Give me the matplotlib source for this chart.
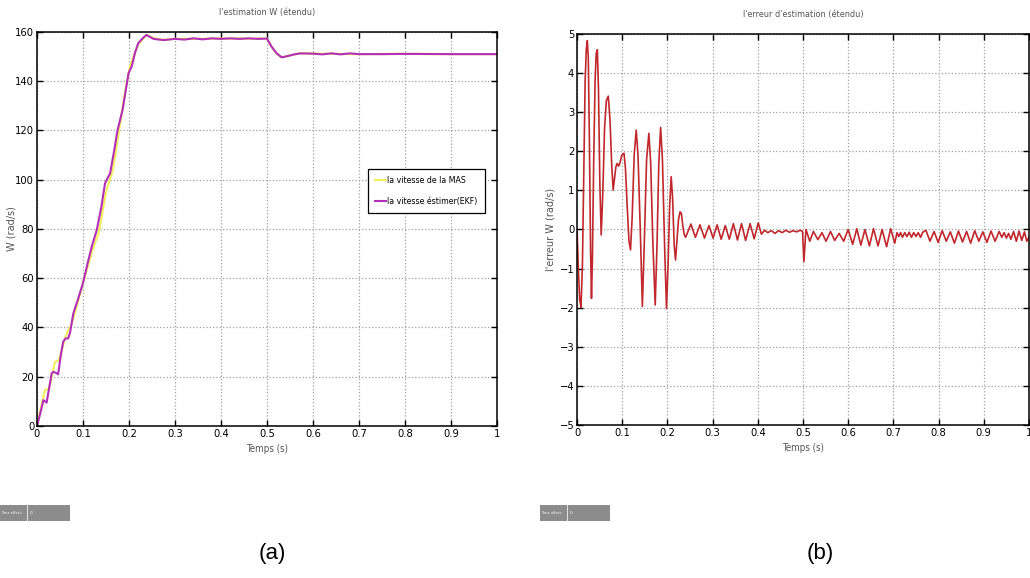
import numpy as np
import matplotlib
matplotlib.use('Agg')
import matplotlib.pyplot as plt
from matplotlib.patches import Rectangle

# --- (a) speed: real (MAS) and estimated (EKF) ---
t_mas = [0, 0.008, 0.0174, 0.025, 0.03, 0.039, 0.046, 0.05, 0.06, 0.068, 0.075, 0.086,
         0.1, 0.12, 0.135, 0.15, 0.165, 0.18, 0.192, 0.202, 0.21, 0.22, 0.238, 0.255,
         0.275, 0.3, 0.35, 0.4, 0.45, 0.5, 0.51, 0.521, 0.532, 0.545, 0.557, 0.572,
         0.6, 0.7, 0.8, 0.9, 1.0]
w_mas = [0, 7, 14.6, 15, 18, 26, 26.5, 28, 35, 39, 41, 48.5,
         58, 71, 79, 95, 104, 122, 136, 146, 150, 155, 158.8, 157.4,
         156.8, 157.2, 157.2, 157.3, 157.3, 157.3, 154, 151.3, 149.7, 150.2, 150.8, 151.3,
         151.2, 151.0, 151.1, 151.0, 151.0]

t_ekf = [0, 0.007, 0.014, 0.021, 0.027, 0.032, 0.0355, 0.042, 0.046, 0.052, 0.057, 0.062,
         0.068, 0.072, 0.079, 0.09, 0.1, 0.11, 0.119, 0.13, 0.14, 0.148, 0.159, 0.168,
         0.175, 0.186, 0.199, 0.206, 0.213, 0.22, 0.23, 0.238, 0.253, 0.275, 0.3, 0.32,
         0.34, 0.36, 0.38, 0.4, 0.42, 0.44, 0.46, 0.48, 0.5, 0.51, 0.521, 0.532, 0.545,
         0.557, 0.572, 0.6, 0.62, 0.64, 0.66, 0.68, 0.7, 0.75, 0.8, 0.9, 1.0]
w_ekf = [0, 5, 10.5, 9.5, 16, 21.4, 22, 21.5, 21, 29, 34.2, 35.5,
         35.6, 38, 45.7, 52, 58, 66, 72.8, 79.6, 89, 98.6, 102.6, 112,
         120, 128.3, 143.2, 146, 151.5, 155.4, 157.5, 158.8, 157.2, 156.7, 157.2, 156.9,
         157.4, 157.0, 157.4, 157.2, 157.4, 157.2, 157.4, 157.2, 157.3, 154, 151.3, 149.7, 150.2,
         150.8, 151.3, 151.2, 150.9, 151.3, 150.9, 151.3, 151.0, 151.0, 151.1, 151.0, 151.0]

# --- (b) estimation error ---
t_err = [0, 0.003, 0.006, 0.0089, 0.012, 0.015, 0.018, 0.0205, 0.0228, 0.025, 0.0275, 0.03,
         0.032, 0.034, 0.037, 0.04, 0.0425, 0.045, 0.0475, 0.0505, 0.0535, 0.057, 0.061, 0.065,
         0.0692, 0.073, 0.077, 0.08, 0.083, 0.086, 0.089, 0.092, 0.095, 0.099, 0.104, 0.107,
         0.111, 0.115, 0.1184, 0.122, 0.1265, 0.131, 0.135, 0.14, 0.1446, 0.149, 0.154, 0.159,
         0.163, 0.168, 0.173, 0.177, 0.181, 0.185, 0.189, 0.194, 0.198, 0.2015, 0.205, 0.2084,
         0.2115, 0.215, 0.218, 0.221, 0.2245, 0.228, 0.231, 0.234, 0.237, 0.2404,
         0.252, 0.262, 0.272, 0.282, 0.292, 0.301, 0.310, 0.319, 0.328, 0.337, 0.346, 0.355,
         0.364, 0.373, 0.383, 0.392, 0.401,
         0.408, 0.415, 0.422, 0.43, 0.438, 0.446, 0.454, 0.462, 0.47, 0.478, 0.486, 0.494, 0.499,
         0.502, 0.5066, 0.515, 0.523, 0.533, 0.542, 0.551, 0.561, 0.57, 0.58, 0.59,
         0.600, 0.61, 0.619, 0.628, 0.637, 0.647, 0.656, 0.666, 0.675, 0.685, 0.694, 0.703,
         0.708, 0.712, 0.716, 0.72, 0.725, 0.73, 0.735, 0.74, 0.745, 0.75, 0.755, 0.76, 0.765,
         0.772, 0.781, 0.79, 0.799, 0.808, 0.817, 0.826, 0.835, 0.844, 0.853, 0.862, 0.871,
         0.88, 0.889, 0.898, 0.907, 0.916, 0.925, 0.934,
         0.94, 0.945, 0.95, 0.955, 0.96, 0.966, 0.972, 0.978, 0.984, 0.99, 0.995, 1.0]
e_err = [0, -1.0, -1.8, -1.99, -0.9, 1.5, 3.8, 4.6, 4.83, 4.4, 2.2, -0.5,
         -1.76, -0.8, 1.8, 3.8, 4.5, 4.6, 3.6, 1.2, -0.14, 0.9, 2.6, 3.3,
         3.41, 2.8, 1.6, 1.01, 1.3, 1.6, 1.69, 1.62, 1.7, 1.9, 1.95, 1.6,
         0.6, -0.3, -0.52, 0.3, 1.9, 2.54, 1.9, 0.0, -1.97, -0.3, 1.8, 2.46,
         1.7, -0.4, -1.93, -0.4, 1.7, 2.61, 1.8, -0.5, -2.02, -0.9, 0.6, 1.35,
         0.8, -0.4, -0.78, -0.3, 0.25, 0.45, 0.41, 0.1, -0.12, -0.2,
         0.14, -0.2, 0.12, -0.22, 0.1, -0.22, 0.12, -0.25, 0.1, -0.25, 0.15, -0.27,
         0.15, -0.28, 0.15, -0.24, 0.17,
         -0.12, -0.02, -0.08, -0.03, -0.1, -0.03, -0.08, -0.02, -0.07, -0.03, -0.06, -0.02, -0.05,
         -0.82, 0.0, -0.3, -0.05, -0.26, -0.08, -0.3, -0.05, -0.28, -0.1, -0.3,
         0.0, -0.38, 0.02, -0.4, 0.0, -0.42, 0.02, -0.42, 0.0, -0.44, 0.02, -0.35,
         -0.08, -0.18, -0.08, -0.2, -0.08, -0.18, -0.07, -0.2, -0.08, -0.18, -0.08, -0.2, -0.07,
         -0.02, -0.3, -0.05, -0.33, -0.03, -0.3, -0.06, -0.35, -0.04, -0.32, -0.05, -0.35,
         -0.03, -0.3, -0.06, -0.33, -0.04, -0.3, -0.05,
         -0.2, -0.08, -0.22, -0.1, -0.25, -0.05, -0.3, -0.04, -0.28, -0.06, -0.3, -0.2]

x_ticks = [0, 0.1, 0.2, 0.3, 0.4, 0.5, 0.6, 0.7, 0.8, 0.9, 1]
x_labels = ['0', '0.1', '0.2', '0.3', '0.4', '0.5', '0.6', '0.7', '0.8', '0.9', '1']

FAM = 'DejaVu Sans'
COND = 'condensed'
GREY = '#555555'


def style_axes(ax):
    ax.set_xlim(0, 1)
    ax.set_xticks(x_ticks)
    ax.set_xticklabels(x_labels)
    ax.grid(True, linestyle=':', color='#a0a0a0', linewidth=0.9)
    ax.tick_params(direction='in', top=True, right=True, length=4, width=1,
                   labelsize=8, pad=2)
    for lab in ax.get_xticklabels() + ax.get_yticklabels():
        lab.set_fontstretch(COND)
    for s in ax.spines.values():
        s.set_linewidth(1.1)


fig = plt.figure(figsize=(10.3, 5.78), dpi=100)

ax1 = fig.add_axes([0.0359, 0.263, 0.4466, 0.6817])
ax1.plot(t_mas, w_mas, color='#f2f060', lw=1.6, label='la vitesse de la MAS')
ax1.plot(t_ekf, w_ekf, color='#b32fb8', lw=1.5, label='la vitesse éstimer(EKF)')
ax1.set_ylim(0, 160)
ax1.set_yticks(range(0, 161, 20))
style_axes(ax1)
ax1.set_title("l'estimation W (étendu)", fontsize=6.5, color=GREY,
              fontstretch=COND, pad=12)
ax1.set_xlabel('Temps (s)', fontsize=7, color=GREY, fontstretch=COND, labelpad=4)
ax1.set_ylabel('W (rad/s)', fontsize=7, color=GREY)
ax1.yaxis.set_label_coords(-0.045, 0.5)
leg = ax1.legend(loc='upper left', bbox_to_anchor=(0.72, 0.652),
                 prop={'family': FAM, 'size': 6.3, 'stretch': COND}, fancybox=False,
                 edgecolor='black', framealpha=1, handlelength=1.2,
                 handletextpad=0.2, borderpad=0.8, labelspacing=1.35,
                 borderaxespad=0)
leg.get_frame().set_linewidth(0.9)

ax2 = fig.add_axes([0.5602, 0.2647, 0.4388, 0.6765])
ax2.plot(t_err, e_err, color='#c0282d', lw=1.2)
ax2.set_ylim(-5, 5)
ax2.set_yticks(range(-5, 6))
style_axes(ax2)
ax2.set_title("l'erreur d'estimation (étendu)", fontsize=6.5, color=GREY,
              fontstretch=COND, pad=12)
ax2.set_xlabel('Temps (s)', fontsize=7, color=GREY, fontstretch=COND, labelpad=4)
ax2.set_ylabel("l'erreur W (rad/s)", fontsize=7, color=GREY)
ax2.yaxis.set_label_coords(-0.048, 0.5)

# "Time offset" boxes under each scope
for x0 in (0.0, 540 / 1030):
    fig.patches.append(Rectangle((x0, 1 - 521 / 578), 70 / 1030, 16 / 578,
                                 transform=fig.transFigure, facecolor='#8c8c8c',
                                 edgecolor='none'))
    fig.patches.append(Rectangle((x0 + 27 / 1030, 1 - 521 / 578), 1 / 1030, 16 / 578,
                                 transform=fig.transFigure, facecolor='#e0e0e0',
                                 edgecolor='none'))
    fig.text(x0 + 1 / 1030, 1 - 513 / 578, 'Time offset:', fontsize=2.8, color='white',
             va='center', ha='left', fontstretch=COND)
    fig.text(x0 + 30 / 1030, 1 - 513 / 578, '0', fontsize=3, color='white',
             va='center', ha='left')

fig.text(272 / 1030, 1 - 553 / 578, '(a)', fontsize=16, ha='center', va='center',
         fontfamily='Liberation Sans')
fig.text(820 / 1030, 1 - 553 / 578, '(b)', fontsize=16, ha='center', va='center',
         fontfamily='Liberation Sans')

fig.savefig('out.png', dpi=100)
